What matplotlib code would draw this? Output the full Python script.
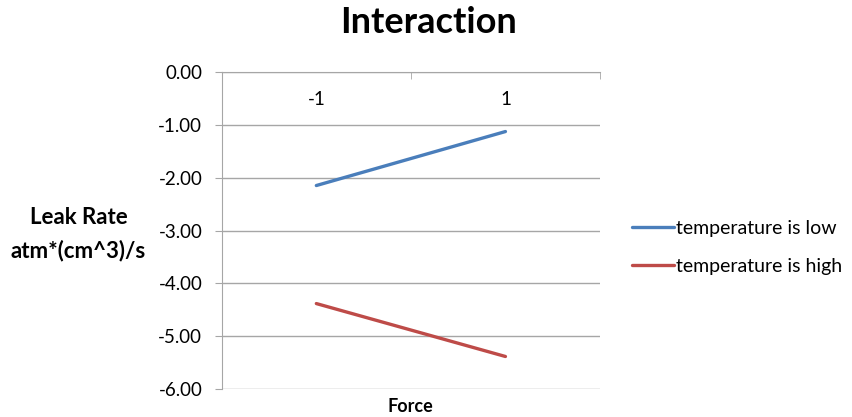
import matplotlib
matplotlib.use("Agg")
import matplotlib.pyplot as plt
from matplotlib.ticker import FixedLocator, FormatStrFormatter

# Data
categories = ["-1", "1"]
temp_low = [-2.15, -1.13]
temp_high = [-4.38, -5.38]
series_names = ["temperature is low", "temperature is high"]
y_ticks = [0, -1, -2, -3, -4, -5, -6]

plt.rcParams["font.family"] = ["Lato", "DejaVu Sans"]

fig = plt.figure(figsize=(8.53, 4.17), dpi=100)
ax = fig.add_axes([0.26, 0.0664, 0.7034 - 0.26, 0.828 - 0.0664])

x = list(range(len(categories)))
ax.plot(x, temp_low, color="#4a7ebb", lw=2.4, solid_capstyle="round", label=series_names[0])
ax.plot(x, temp_high, color="#be4b48", lw=2.4, solid_capstyle="round", label=series_names[1])

ax.set_xlim(-0.5, len(categories) - 0.5)
ax.set_ylim(-6, 0)

grid_color = "#a6a6a6"
ax.yaxis.set_major_locator(FixedLocator(y_ticks))
ax.yaxis.set_major_formatter(FormatStrFormatter("%.2f"))
ax.grid(axis="y", color=grid_color, lw=1.0)
ax.set_axisbelow(True)

for side in ["right", "bottom"]:
    ax.spines[side].set_visible(False)
ax.spines["left"].set_color(grid_color)
ax.spines["top"].set_color(grid_color)

ax.tick_params(axis="y", length=5, color=grid_color, labelsize=13.5, labelcolor="#000000", pad=9)

# category axis crosses at zero (top); labels sit just below it
ax.xaxis.set_ticks_position("top")
ax.set_xticks(x)
ax.set_xticklabels(categories)
ax.set_xticks([-0.5 + i for i in range(len(categories) + 1)], minor=True)
ax.tick_params(axis="x", which="major", length=0, labelsize=13.5, pad=-26,
               top=True, labeltop=True, bottom=False, labelbottom=False)
ax.tick_params(axis="x", which="minor", length=5, direction="in", color=grid_color,
               top=True, bottom=False)

fig.text(0.502, 0.945, "Interaction", ha="center", va="center", fontsize=26, fontweight="bold")
fig.text(0.092, 0.438, "Leak Rate\natm*(cm^3)/s", ha="center", va="center",
         fontsize=16, fontweight="bold", linespacing=1.65)
fig.text(0.481, 0.024, "Force", ha="center", va="center", fontsize=13, fontweight="bold")

fig.legend(loc="center left", bbox_to_anchor=(0.732, 0.407), frameon=False,
           fontsize=14, handlelength=2.15, handletextpad=0.12, labelspacing=1.1,
           borderaxespad=0)

fig.savefig("out.png", dpi=100)
